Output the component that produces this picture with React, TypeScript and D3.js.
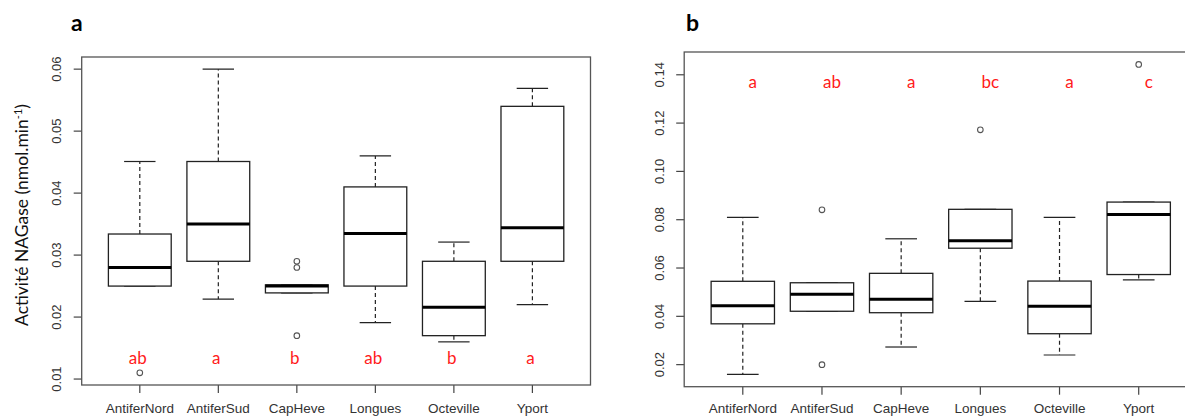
import React from "react";
import * as d3 from "d3";

const sites = ["AntiferNord", "AntiferSud", "CapHeve", "Longues", "Octeville", "Yport"];

// Panel a: NAGase activity
const aLower = [0.025, 0.0229, 0.0239, 0.0191, 0.016, 0.022];
const aQ1 = [0.025, 0.029, 0.0239, 0.025, 0.017, 0.029];
const aMedian = [0.028, 0.035, 0.025, 0.0335, 0.0216, 0.0344];
const aQ3 = [0.0334, 0.0451, 0.0252, 0.041, 0.029, 0.054];
const aUpper = [0.0451, 0.06, 0.0252, 0.046, 0.0321, 0.0569];
const aOutliers = [[0.011], [], [0.029, 0.028, 0.017], [], [], []];
const aLetters = ["ab", "a", "b", "ab", "b", "a"];
const aLetterY = 0.0134;
const aTicks = [0.01, 0.02, 0.03, 0.04, 0.05, 0.06];

// Panel b
const bLower = [0.016, 0.0421, 0.0273, 0.0462, 0.024, 0.0551];
const bQ1 = [0.0369, 0.0421, 0.0415, 0.0682, 0.0328, 0.0573];
const bMedian = [0.0444, 0.0491, 0.0471, 0.0713, 0.0442, 0.0822];
const bQ3 = [0.0545, 0.0539, 0.0578, 0.0843, 0.0546, 0.0873];
const bUpper = [0.081, 0.0539, 0.0721, 0.0843, 0.081, 0.0873];
const bOutliers = [[], [0.0841, 0.02], [], [0.1172], [], [0.1443]];
const bLetters = ["a", "ab", "a", "bc", "a", "c"];
const bLetterY = 0.137;
const bTicks = [0.02, 0.04, 0.06, 0.08, 0.10, 0.12, 0.14];

const tickFont = "'Liberation Sans', Arial, sans-serif";
const annoFont = "Lato, 'Open Sans', sans-serif";

type PanelProps = {
  left: number; right: number; top: number; bottom: number;
  lower: number[]; q1: number[]; median: number[]; q3: number[]; upper: number[];
  outliers: number[][]; letters: string[]; letterY: number; letterDx: number;
  ticks: number[]; tickFmt: (v: number) => string; tickLabelX: number;
  title: string; titleX: number;
};

function Panel(p: PanelProps) {
  const n = sites.length;
  const xr = (n + 0.5) - 0.5;
  const x = d3.scaleLinear().domain([0.5 - xr * 0.04, n + 0.5 + xr * 0.04]).range([p.left, p.right]);
  const all = [...p.lower, ...p.upper, ...p.outliers.flat()];
  const [mn, mx] = d3.extent(all) as [number, number];
  const pad = (mx - mn) * 0.04;
  const y = d3.scaleLinear().domain([mn - pad, mx + pad]).range([p.bottom, p.top]);
  const bw = x(1.4) - x(1);
  const sw = x(1.2) - x(1);
  const boxCol = "#222";
  return (
    <g>
      <text x={p.titleX} y={31} fontFamily={annoFont} fontWeight="bold" fontSize={23} fill="#000">{p.title}</text>
      {sites.map((s, i) => {
        const cx = x(i + 1);
        return (
          <g key={s}>
            <line x1={cx} x2={cx} y1={y(p.q3[i])} y2={y(p.upper[i])} stroke={boxCol} strokeWidth={1.2} strokeDasharray="4,3" />
            <line x1={cx} x2={cx} y1={y(p.q1[i])} y2={y(p.lower[i])} stroke={boxCol} strokeWidth={1.2} strokeDasharray="4,3" />
            <line x1={cx - sw} x2={cx + sw} y1={y(p.upper[i])} y2={y(p.upper[i])} stroke={boxCol} strokeWidth={1.2} />
            <line x1={cx - sw} x2={cx + sw} y1={y(p.lower[i])} y2={y(p.lower[i])} stroke={boxCol} strokeWidth={1.2} />
            <rect x={cx - bw} width={2 * bw} y={y(p.q3[i])} height={Math.max(0, y(p.q1[i]) - y(p.q3[i]))} fill="#fff" stroke={boxCol} strokeWidth={1.3} />
            <line x1={cx - bw} x2={cx + bw} y1={y(p.median[i])} y2={y(p.median[i])} stroke="#000" strokeWidth={3} />
            {p.outliers[i].map((o, j) => (
              <circle key={j} cx={cx} cy={y(o)} r={2.8} fill="none" stroke="#555" strokeWidth={1.1} />
            ))}
            <text x={cx + p.letterDx} y={y(p.letterY)} dy="0.35em" textAnchor="middle" fontFamily={annoFont} fontSize={17} fill="#ff1a1a">{p.letters[i]}</text>
            <line x1={cx} x2={cx} y1={p.bottom} y2={p.bottom + 8} stroke="#444" strokeWidth={1.2} />
            <text x={cx} y={413} textAnchor="middle" fontFamily={tickFont} fontSize={13.5} fill="#333">{s}</text>
          </g>
        );
      })}
      {p.ticks.map((t) => (
        <g key={t}>
          <line x1={p.left - 8} x2={p.left} y1={y(t)} y2={y(t)} stroke="#444" strokeWidth={1.2} />
          <text transform={`translate(${p.tickLabelX},${y(t)}) rotate(-90)`} dy="0.35em" textAnchor="middle" fontFamily={tickFont} fontSize={13} fill="#333">{p.tickFmt(t)}</text>
        </g>
      ))}
      <rect x={p.left} y={p.top} width={p.right - p.left} height={p.bottom - p.top} fill="none" stroke="#555" strokeWidth={1.3} />
    </g>
  );
}

export default function App() {
  return (
    <svg width={1185} height={418} style={{ position: "absolute", left: 0, top: 0, background: "#fff" }}>
      <Panel left={81.7} right={590.5} top={57} bottom={385}
        lower={aLower} q1={aQ1} median={aMedian} q3={aQ3} upper={aUpper}
        outliers={aOutliers} letters={aLetters} letterY={aLetterY} letterDx={-2}
        ticks={aTicks} tickFmt={d3.format(".2f")} tickLabelX={56.5} title="a" titleX={71} />
      <Panel left={684.2} right={1197.3} top={52} bottom={386.7}
        lower={bLower} q1={bQ1} median={bMedian} q3={bQ3} upper={bUpper}
        outliers={bOutliers} letters={bLetters} letterY={bLetterY} letterDx={10}
        ticks={bTicks} tickFmt={d3.format(".2f")} tickLabelX={659} title="b" titleX={686} />
      <text transform="translate(22,215) rotate(-90)" dy="0.35em" textAnchor="middle" fontFamily={annoFont} fontSize={17.5} fill="#111">
        Activité NAGase (nmol.min<tspan dy="-6" fontSize={11}>-1</tspan><tspan dy="6">)</tspan>
      </text>
    </svg>
  );
}
